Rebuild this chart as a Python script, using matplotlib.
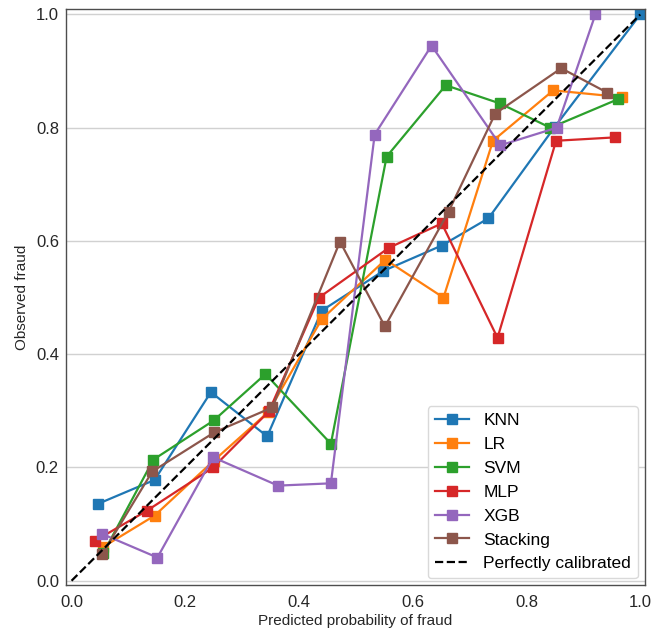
import numpy as np
import matplotlib
matplotlib.use('Agg')
import matplotlib.pyplot as plt

plt.rcParams.update({'font.family': ['Liberation Sans', 'DejaVu Sans'],
                     'axes.edgecolor': '0.3', 'axes.linewidth': 1.0})

# calibration curves (mean predicted, fraction positives)
knn_x = [0.047, 0.146, 0.245, 0.344, 0.440, 0.548, 0.651, 0.733, 0.850, 1.000]
knn_y = [0.136, 0.178, 0.333, 0.255, 0.477, 0.547, 0.592, 0.640, 0.802, 1.000]

lr_x = [0.056, 0.146, 0.250, 0.346, 0.440, 0.552, 0.654, 0.741, 0.847, 0.968]
lr_y = [0.060, 0.115, 0.212, 0.298, 0.462, 0.567, 0.500, 0.777, 0.866, 0.854]

svm_x = [0.056, 0.144, 0.250, 0.341, 0.456, 0.554, 0.658, 0.753, 0.842, 0.960]
svm_y = [0.049, 0.214, 0.283, 0.365, 0.242, 0.749, 0.875, 0.843, 0.800, 0.850]

mlp_x = [0.042, 0.133, 0.249, 0.347, 0.435, 0.558, 0.651, 0.749, 0.852, 0.956]
mlp_y = [0.071, 0.124, 0.200, 0.299, 0.500, 0.588, 0.631, 0.429, 0.777, 0.783]

xgb_x = [0.053, 0.151, 0.249, 0.363, 0.456, 0.533, 0.633, 0.754, 0.853, 0.921]
xgb_y = [0.083, 0.041, 0.218, 0.168, 0.172, 0.788, 0.945, 0.769, 0.800, 1.000]

stk_x = [0.054, 0.142, 0.251, 0.353, 0.472, 0.551, 0.663, 0.745, 0.861, 0.942]
stk_y = [0.047, 0.193, 0.262, 0.306, 0.599, 0.449, 0.652, 0.825, 0.905, 0.862]

models = ['KNN', 'LR', 'SVM', 'MLP', 'XGB', 'Stacking']
curves = [(knn_x, knn_y), (lr_x, lr_y), (svm_x, svm_y),
          (mlp_x, mlp_y), (xgb_x, xgb_y), (stk_x, stk_y)]

fig, ax = plt.subplots(figsize=(6.52, 6.3), dpi=100)
fig.subplots_adjust(left=0.101, right=0.989, top=0.986, bottom=0.071)

for name, (x, y) in zip(models, curves):
    ax.plot(x, y, 's-', label=name, markersize=7, linewidth=1.6)
ax.plot([0, 1], [0, 1], 'k--', label='Perfectly calibrated', linewidth=1.6)

ax.set_xlim(-0.01, 1.008)
ax.set_ylim(-0.008, 1.01)
ax.set_xticks(np.arange(0, 1.01, 0.2))
ax.set_yticks(np.arange(0, 1.01, 0.2))
ax.yaxis.grid(True, color='0.82', linewidth=1.0)
ax.set_axisbelow(True)
ax.tick_params(axis='x', length=0, labelsize=12, colors='0.15', pad=7)
ax.tick_params(axis='y', length=0, labelsize=12, colors='0.15', pad=5)
ax.set_xlabel('Predicted probability of fraud', fontsize=11, color='0.15', labelpad=3)
ax.set_ylabel('Observed fraud', fontsize=11, color='0.15', labelpad=5)
ax.legend(loc='lower right', fontsize=12.5, handlelength=2.0, framealpha=1,
          edgecolor='0.85', borderaxespad=0.4)

plt.savefig('out.png', dpi=100)
